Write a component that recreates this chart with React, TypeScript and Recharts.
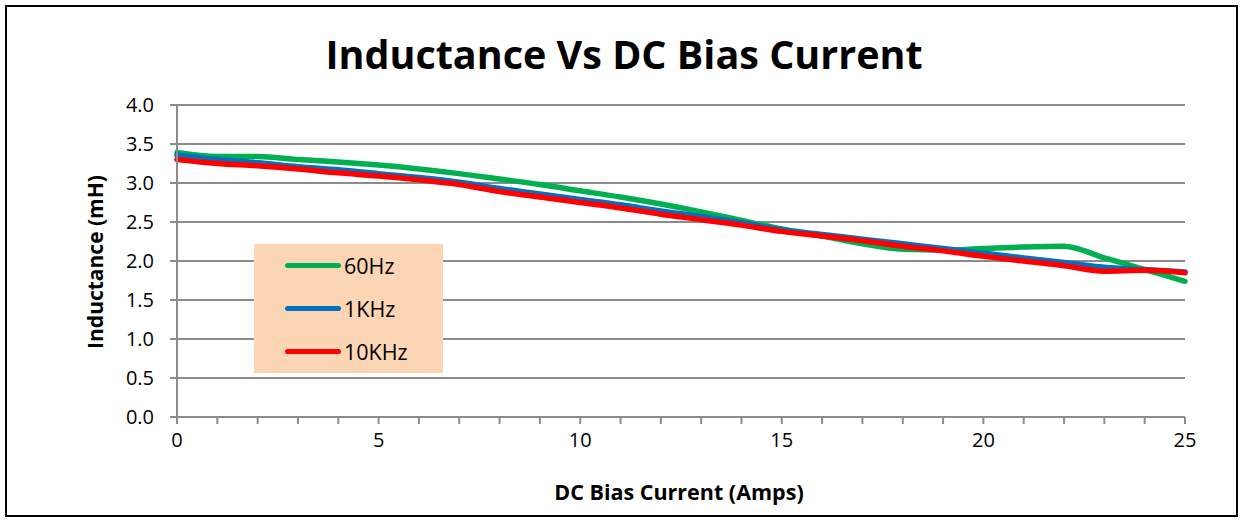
import { LineChart, Line, XAxis, YAxis, CartesianGrid } from "recharts";

const currents = [0, 1, 2, 3, 4, 5, 6, 7, 8, 9, 10, 11, 12, 13, 14, 15, 16, 17, 18, 19, 20, 21, 22, 23, 24, 25];
const hz60 = [3.39, 3.34, 3.34, 3.30, 3.27, 3.23, 3.18, 3.12, 3.05, 2.98, 2.90, 2.82, 2.73, 2.63, 2.52, 2.41, 2.32, 2.22, 2.15, 2.14, 2.16, 2.18, 2.19, 2.04, 1.89, 1.74];
const khz1 = [3.36, 3.30, 3.26, 3.21, 3.17, 3.12, 3.07, 3.01, 2.93, 2.86, 2.79, 2.72, 2.64, 2.57, 2.49, 2.40, 2.34, 2.28, 2.22, 2.16, 2.10, 2.04, 1.98, 1.92, 1.89, 1.86];
const khz10 = [3.30, 3.25, 3.22, 3.18, 3.13, 3.09, 3.04, 2.98, 2.89, 2.82, 2.75, 2.68, 2.60, 2.53, 2.46, 2.38, 2.32, 2.26, 2.19, 2.13, 2.06, 2.00, 1.94, 1.87, 1.88, 1.85];
const yTicks = [0, 0.5, 1, 1.5, 2, 2.5, 3, 3.5, 4];

const data = currents.map((c, i) => ({ current: c, hz60: hz60[i], khz1: khz1[i], khz10: khz10[i] }));

const series = [
  { key: "hz60", name: "60Hz", color: "#00B050" },
  { key: "khz1", name: "1KHz", color: "#0070C0" },
  { key: "khz10", name: "10KHz", color: "#FF0000" },
];

const FONT = "'Open Sans', sans-serif";

export default function App() {
  return (
    <div style={{ position: "absolute", left: 0, top: 0, width: 1241, height: 520, fontFamily: FONT, background: "#fff" }}>
      <LineChart width={1241} height={520} data={data} margin={{ top: 105, right: 56, left: 107, bottom: 63 }}>
        <CartesianGrid vertical={false} stroke="#8c8c8c" strokeWidth={2} />
        <XAxis
          dataKey="current"
          type="number"
          domain={[0, 25]}
          ticks={currents}
          interval={0}
          tickFormatter={(v: number) => (v % 5 === 0 ? String(v) : "")}
          stroke="#8c8c8c"
          strokeWidth={2}
          tickSize={7}
          tick={{ fill: "#000", fontSize: 20, fontFamily: FONT }}
          tickMargin={9}
          height={40}
        />
        <YAxis
          domain={[0, 4]}
          ticks={yTicks}
          interval={0}
          tickFormatter={(v: number) => v.toFixed(1)}
          stroke="#8c8c8c"
          strokeWidth={2}
          tickSize={7}
          tick={{ fill: "#000", fontSize: 20, fontFamily: FONT }}
          tickMargin={16}
          width={70}
        />
        {series.map(s => (
          <Line
            key={s.key}
            type="monotone"
            dataKey={s.key}
            name={s.name}
            stroke={s.color}
            strokeWidth={5.5}
            dot={false}
            strokeLinecap="round"
            isAnimationActive={false}
          />
        ))}
      </LineChart>
      <div style={{ position: "absolute", left: 5, top: 5, width: 1229, height: 508, border: "2.5px solid #000", pointerEvents: "none" }} />
      <div style={{ position: "absolute", left: 0, top: 26, width: 1248, textAlign: "center", fontSize: 39.5, fontWeight: 700, lineHeight: "56px" }}>
        Inductance Vs DC Bias Current
      </div>
      <div style={{ position: "absolute", left: 0, top: 477, width: 1358, textAlign: "center", fontSize: 21.5, fontWeight: 700, lineHeight: "30px" }}>
        DC Bias Current (Amps)
      </div>
      <div style={{ position: "absolute", left: 95, top: 262, transform: "translate(-50%, -50%) rotate(-90deg)", fontSize: 21, fontWeight: 700, whiteSpace: "nowrap", lineHeight: "30px" }}>
        Inductance (mH)
      </div>
      <div style={{ position: "absolute", left: 254, top: 244, width: 189, height: 129, background: "#FCD5B5", boxSizing: "border-box" }}>
        {series.map(s => (
          <div key={s.key} style={{ display: "flex", alignItems: "center", height: 43, paddingLeft: 31 }}>
            <div style={{ width: 56, height: 5, borderRadius: 3, background: s.color }} />
            <span style={{ fontSize: 21.5, marginLeft: 3, color: "#000", lineHeight: "30px" }}>{s.name}</span>
          </div>
        ))}
      </div>
    </div>
  );
}
